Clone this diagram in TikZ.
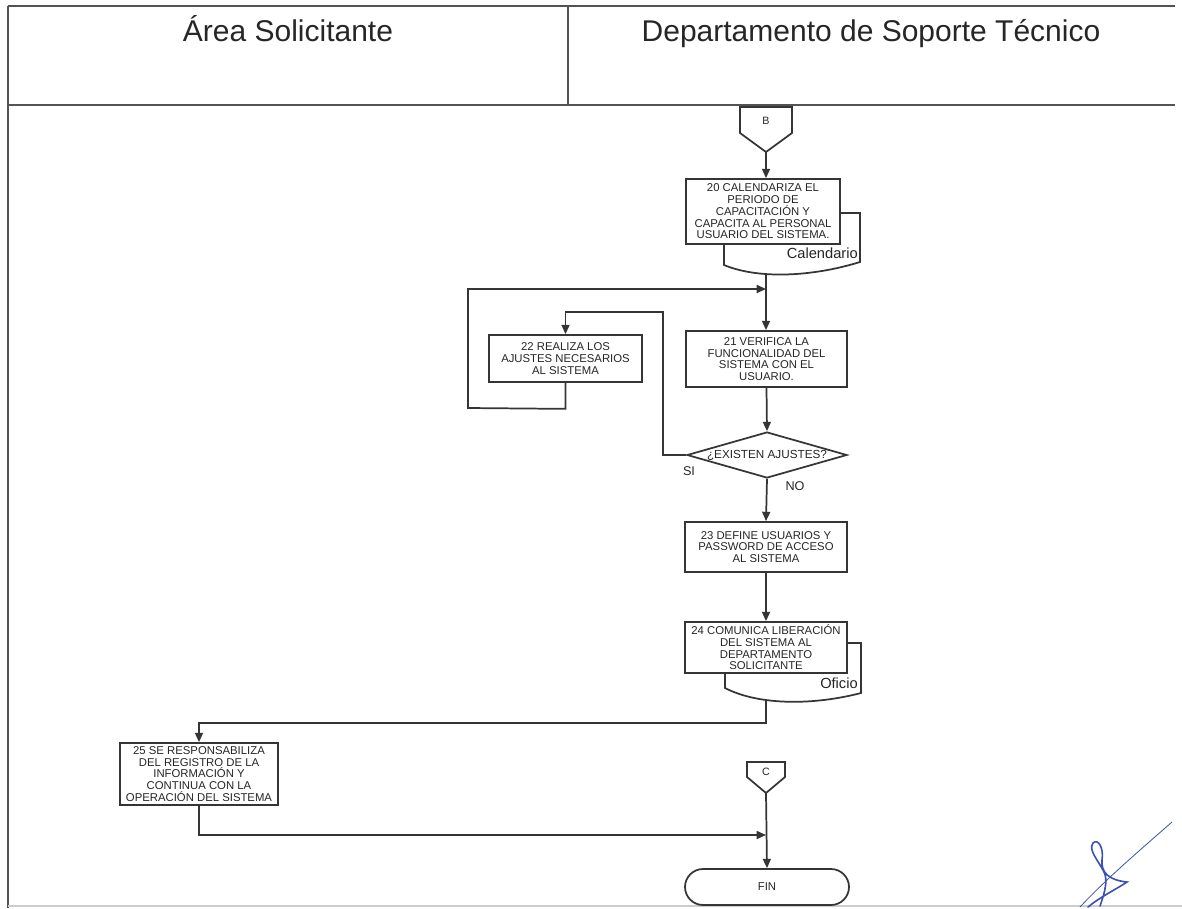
\documentclass[tikz,border=0pt]{standalone}
\usepackage{fontspec}
\setmainfont{Liberation Sans}
\usetikzlibrary{arrows.meta,shapes.geometric,shapes.misc}
\definecolor{linec}{HTML}{353535}
\definecolor{txtc}{HTML}{262626}
\definecolor{inkblue}{HTML}{3B4FB4}
\newcommand\bxfont{\fontsize{8.5}{8.8}\selectfont}
\begin{document}
\begin{tikzpicture}[x=0.75pt,y=-0.75pt,
  box/.style={draw=linec,line width=1.3pt,fill=white,inner sep=0pt,align=center,font=\bxfont,text=txtc},
  flow/.style={draw=linec,line width=1.3pt,-{Triangle[length=7pt,width=6pt]}},
  plain/.style={draw=linec,line width=1.3pt},
  frame/.style={draw=linec!85,line width=1.2pt},
  lbl/.style={font=\fontsize{9.5}{10}\selectfont,text=txtc,inner sep=0pt},
  doclbl/.style={font=\fontsize{11}{12}\selectfont,text=txtc,inner sep=0pt,anchor=base east},
  hdr/.style={font=\fontsize{22.5}{25}\selectfont,text=txtc,inner sep=0pt,anchor=base},
  conn/.style={draw=linec,line width=1.3pt,fill=white,line join=miter}]
\useasboundingbox (0,0) rectangle (1182,908);

% swimlane frame and header
\draw[frame] (8,6) -- (1175,6);
\draw[frame] (8,105) -- (1175,105);
\draw[frame] (568,6) -- (568,105);
\draw[frame] (8,6) -- (8,908);
\draw[draw=gray!40,line width=0.8pt] (8,906) -- (1182,906);
\node[hdr] (lane1) at (288,41) {Área Solicitante};
\node[hdr] (lane2) at (871,41) {Departamento de Soporte Técnico};

% off-page connector B
\draw[conn] (740,107) -- (792,107) -- (792,133) -- (766,152) -- (740,133) -- cycle;
\node[font=\fontsize{8}{9}\selectfont,text=txtc] (B) at (766,121) {B};
\coordinate (Btip) at (766,152);

% document shapes behind steps 20 and 24
\draw[plain,fill=white] (724,213) -- (860,213) -- (860,262)
  .. controls (815,276) and (760,280) .. (724,265) -- cycle;
\coordinate (d20) at (766,273);
\draw[plain,fill=white] (725,643) -- (861,643) -- (861,693)
  .. controls (815,705) and (760,706) .. (725,688) -- cycle;
\coordinate (d24) at (766,700);
\node[doclbl] (cal) at (858,258) {Calendario};
\node[doclbl] (ofi) at (858,688) {Oficio};

% process steps
\node[box,minimum width=115.5pt,minimum height=48.75pt] (b20) at (763,211.5)
  {20 CALENDARIZA EL\\PERIODO DE\\CAPACITACIÓN Y\\CAPACITA AL PERSONAL\\USUARIO DEL SISTEMA.};
\node[box,minimum width=120.75pt,minimum height=42pt] (b21) at (766.5,359)
  {21 VERIFICA LA\\FUNCIONALIDAD DEL\\SISTEMA CON EL\\USUARIO.};
\node[box,minimum width=114.75pt,minimum height=35.25pt] (b22) at (565.5,358.5)
  {22 REALIZA LOS\\AJUSTES NECESARIOS\\AL SISTEMA};
\node[box,minimum width=121.5pt,minimum height=37.5pt] (b23) at (766,547)
  {23 DEFINE USUARIOS Y\\PASSWORD DE ACCESO\\AL SISTEMA};
\node[box,minimum width=121.5pt,minimum height=38.25pt] (b24) at (766,647.5)
  {24 COMUNICA LIBERACIÓN\\DEL SISTEMA AL\\DEPARTAMENTO\\SOLICITANTE};
\node[box,minimum width=118.5pt,minimum height=46.5pt] (b25) at (199,774)
  {25 SE RESPONSABILIZA\\DEL REGISTRO DE LA\\INFORMACIÓN Y\\CONTINUA CON LA\\OPERACIÓN DEL SISTEMA};

% decision
\node[diamond,draw=linec,line width=1.3pt,fill=white,inner sep=0pt,
  minimum width=120pt,minimum height=34.5pt,
  label={[font=\fontsize{8.8}{9}\selectfont,text=txtc,inner sep=0pt]center:¿EXISTEN AJUSTES?}] (dia) at (767,455) {};
\node[lbl] (si) at (689,471) {SI};
\node[lbl] (no) at (795,486) {NO};

% off-page connector C and terminator
\draw[conn] (747,762) -- (785,762) -- (785,777) -- (766,793) -- (747,777) -- cycle;
\node[font=\fontsize{8}{9}\selectfont,text=txtc] (C) at (766,772) {C};
\coordinate (Ctip) at (766,793);
\node[rounded rectangle,draw=linec,line width=1.3pt,fill=white,inner sep=0pt,
  minimum width=123pt,minimum height=27pt,font=\fontsize{8.5}{9}\selectfont,text=txtc] (fin) at (767,887) {FIN};

% connectors
\coordinate (j1) at (766,289);
\coordinate (j2) at (766,835);
\draw[flow] (Btip) -- (Btip |- b20.north);
\draw[flow] (d20) -- (d20 |- b21.north);
\draw[flow] (b22.south) -- ++(0,26) -- (468,408) -- (468,289) -- (j1);
\draw[flow] (dia.west) -- (663,455) -- (663,312) -- (b22.north |- 0,312) -- (b22.north);
\draw[flow] (b21.south) -- (dia.north);
\draw[flow] (dia.south) -- (b23.north);
\draw[flow] (b23.south) -- (b24.north);
\draw[flow] (d24) -- (766,723) -- (b25.north |- 0,723) -- (b25.north);
\draw[flow] (b25.south) -- (b25.south |- j2) -- (j2);
\draw[flow] (Ctip) -- (fin.north);

% signature
\draw[inkblue,line width=0.6pt] (1172,822) .. controls (1140,850) and (1105,880) .. (1080,907);
\draw[inkblue,line width=1.2pt,line cap=round] (1100,906)
  .. controls (1105,892) and (1108,880) .. (1104,872)
  .. controls (1098,860) and (1088,850) .. (1093,843)
  .. controls (1098,838) and (1104,848) .. (1102,860)
  .. controls (1101,872) and (1108,880) .. (1127,882)
  .. controls (1115,890) and (1100,897) .. (1088,907);
\end{tikzpicture}
\end{document}
